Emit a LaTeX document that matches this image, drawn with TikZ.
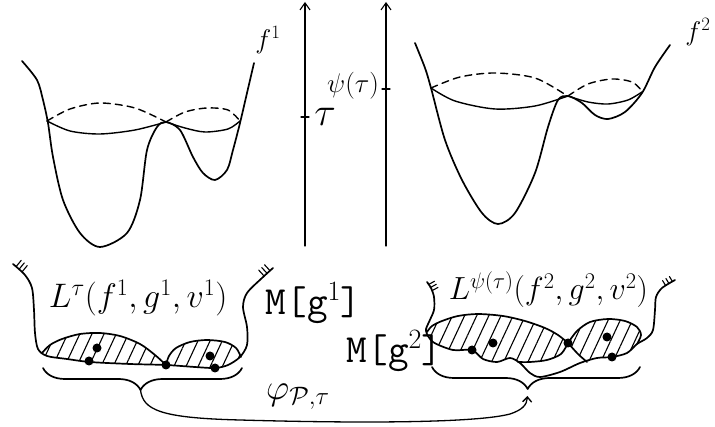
\RequirePackage{fix-cm}
\documentclass[tikz,border=0pt]{standalone}
\usepackage{amsmath}
\usepackage{amssymb}
\usetikzlibrary{arrows.meta,patterns.meta,decorations.pathreplacing}

\begin{document}
\begin{tikzpicture}[x=1pt,y=-1pt,line width=1.7pt,line cap=round,line join=round,
    level/.style={line width=1.4pt},
    upper/.style={line width=1.4pt,dash pattern=on 7pt off 5pt},
    hatch/.style={pattern={Lines[angle=65,distance=11pt,line width=1.1pt]}},
    curlyb/.style={decorate,decoration={brace,mirror,amplitude=22pt,aspect=#1}},
    axis/.style={line width=1.1pt,-{Straight Barb[length=7pt,width=10pt]}},
    lbl/.style={inner sep=0pt,font=\fontsize{#1}{#1}\selectfont}]
    \useasboundingbox (0,0) rectangle (715,427);

    \draw plot[smooth] coordinates {(22,61) (37,80) (43,100) (48,123) (53,157) (63,200) (80,233) (100,247) (127,233) (140,200) (147,150) (157,127) (166,122) (180,130) (193,157) (203,173) (215,180) (227,170) (233,150) (240,123) (247,93) (254,63)};
    \draw[level] plot[smooth] coordinates {(47,121) (70,131) (100,134) (135,130) (166,122)};
    \draw[level] plot[smooth] coordinates {(166,122) (185,128) (205,132) (228,129) (240,121)};
    \draw[upper] plot[smooth] coordinates {(47,121) (70,109) (100,103) (135,108) (166,122)};
    \draw[upper] plot[smooth] coordinates {(166,122) (185,112) (207,108) (228,110) (240,121)};
    \node[lbl=27] (fone) at (268,40) {$f^1$};

    \draw plot[smooth] coordinates {(415,43) (425,68) (431,88) (445,140) (462,180) (482,213) (498,224) (515,213) (535,173) (548,127) (558,100) (568,96) (582,103) (595,115) (608,119) (625,112) (642,93) (655,67) (670,45)};
    \draw[level] plot[smooth] coordinates {(431,88) (455,101) (495,109) (535,106) (568,96)};
    \draw[level] plot[smooth] coordinates {(568,96) (588,102) (608,104) (628,100) (642,92)};
    \draw[upper] plot[smooth] coordinates {(431,88) (460,77) (495,73) (535,78) (566,95)};
    \draw[upper] plot[smooth] coordinates {(568,96) (588,84) (612,79) (632,82) (642,91)};
    \node[lbl=27] (ftwo) at (698,32) {$f^2$};

    \draw[axis] (305,246) -- (305,2);
    \draw[axis] (386,246) -- (386,2);
    \draw[line width=1.1pt] (301,117) -- (309,117);
    \draw[line width=1.1pt] (382,89) -- (390,89);
    \node[lbl=40] (tau) at (325,117) {$\tau$};
    \node[lbl=27] (psitau) at (353,86) {$\psi(\tau)$};

    \fill[hatch] plot[smooth] coordinates {(42,353) (50,345) (62,339) (80,334) (100,333) (120,336) (140,344) (155,355) (166,365)} -- plot[smooth] coordinates {(166,365) (130,364) (90,362) (67,359) (47,356) (42,353)} -- cycle;
    \fill[hatch] plot[smooth] coordinates {(166,365) (169,356) (176,348) (190,342) (207,340) (225,342) (236,348) (241,357)} -- plot[smooth] coordinates {(241,357) (228,365) (215,368) (195,367) (166,365)} -- cycle;
    \draw plot[smooth] coordinates {(42,353) (50,345) (62,339) (80,334) (100,333) (120,336) (140,344) (155,355) (166,365)};
    \draw plot[smooth] coordinates {(166,365) (169,356) (176,348) (190,342) (207,340) (225,342) (236,348) (241,357)};
    \draw plot[smooth] coordinates {(13,264) (25,275) (32,288) (34,310) (35,333) (38,349) (47,356) (67,359) (90,362) (130,364) (166,365) (195,367) (215,368) (228,365) (240,357) (247,345) (247,327) (243,307) (247,293) (262,278) (273,268)};

    \fill[hatch] plot[smooth] coordinates {(427,332) (432,326) (442,321) (458,316) (478,314) (503,316) (525,321) (545,328) (558,335) (568,343)} -- plot[smooth] coordinates {(568,343) (561,354) (547,360) (530,362) (518,362)} -- plot[smooth] coordinates {(518,362) (510,358) (497,362) (483,359) (472,350) (453,350) (433,342) (427,332)} -- cycle;
    \fill[hatch] (568,343) -- (587,362) -- plot[smooth] coordinates {(587,362) (597,358) (612,357) (627,353) (637,344)} -- plot[smooth] coordinates {(637,344) (641,335) (637,327) (625,321) (608,319) (590,322) (577,331) (568,343)} -- cycle;
    \draw plot[smooth] coordinates {(427,332) (432,326) (442,321) (458,316) (478,314) (503,316) (525,321) (545,328) (558,335) (568,343)};
    \draw plot[smooth] coordinates {(568,343) (561,354) (547,360) (530,362) (518,362)};
    \draw plot[smooth] coordinates {(568,343) (578,354) (587,362)};
    \draw plot[smooth] coordinates {(637,344) (641,335) (637,327) (625,321) (608,319) (590,322) (577,331) (568,343)};
    \draw plot[smooth] coordinates {(427,282) (431,288) (434,297) (434,310) (429,322) (426,331) (433,342) (453,350) (472,350) (483,359) (497,362) (510,358) (520,363) (530,373) (540,377) (560,372) (580,363) (597,358) (612,357) (627,353) (637,344) (647,338) (653,330) (655,310) (656,297) (662,288) (675,280)};

    \foreach \xa/\ya/\xb/\yb in {16.1/266.6/21.2/260.4, 19.2/269.1/24.3/262.9, 22.2/271.7/27.3/265.5,
        270.0/270.7/264.6/264.8, 267.1/273.4/261.7/267.5, 264.1/276.0/258.7/270.1,
        428.4/284.6/434.6/281.2, 430.1/287.7/436.3/284.3, 431.8/290.8/438.0/287.4,
        672.5/281.6/669.4/276.5, 669.0/283.6/665.9/278.5, 665.7/285.7/662.6/280.6}
        \draw[line width=1.1pt] (\xa,\ya) -- (\xb,\yb);

    \foreach \x/\y in {97/348, 89/361, 166/365, 210/356, 215/368, 472/350, 493/343, 568/343, 607/337, 612/357}
        \fill (\x,\y) circle (4.5pt);

    \node[lbl=34,anchor=base west] (Lone) at (48,308) {$L^{\tau}(f^1,g^1,v^1)$};
    \node[lbl=32,anchor=base west] (Ltwo) at (448,300) {$L^{\psi(\tau)}(f^2,g^2,v^2)$};
    \node[lbl=40,anchor=base west] (Mone) at (265,315) {\ttfamily M[g$^1$]};
    \node[lbl=40,anchor=base west] (Mtwo) at (346,363) {\ttfamily M[g$^2$]};

    \draw[curlyb=0.49] (43,368) -- (242,368);
    \draw[curlyb=0.46] (432,367) -- (640,367);
    \coordinate (tipL) at (140.5,390);
    \coordinate (tipR) at (527.7,390);
    \draw[line width=1.3pt,-{Straight Barb[length=5pt,width=9pt]},shorten >=6pt] (tipL) .. controls (143,410) and (160,418) .. (240,420) .. controls (380,424) and (480,422) .. (510,414) .. controls (522,410) and (527,405) .. (tipR);
    \node[lbl=36] (phi) at (298,397) {$\varphi_{\mathcal{P},\tau}$};
\end{tikzpicture}
\end{document}
